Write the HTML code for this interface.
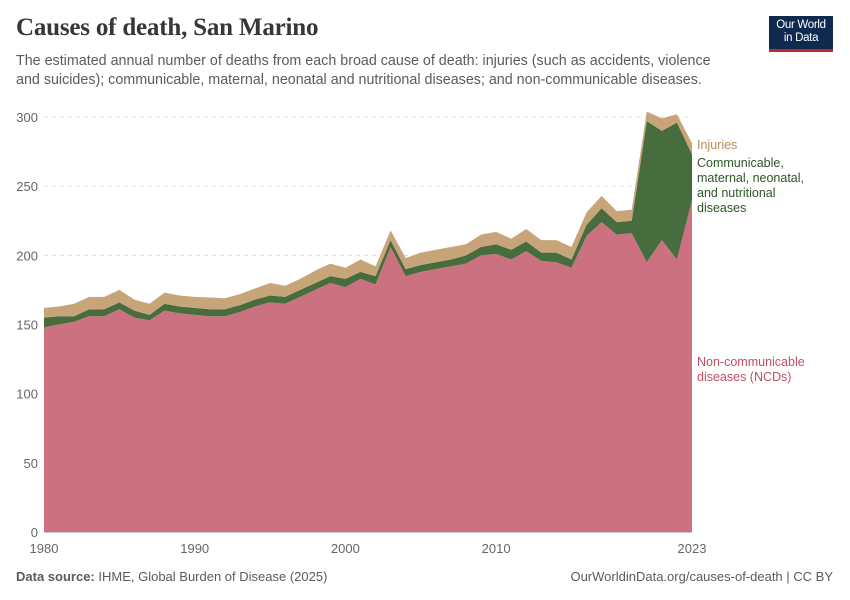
<!DOCTYPE html>
<html><head><meta charset="utf-8"><style>
body{margin:0;background:#fff;font-family:"Liberation Sans",sans-serif;}
#wrap{position:relative;width:850px;height:600px;overflow:hidden;}
.t{position:absolute;white-space:nowrap;}
</style></head><body>
<div id="wrap">
<div class="t" style="left:16px;top:14px;font-family:'Liberation Serif',serif;font-size:25px;font-weight:bold;color:#373737;letter-spacing:-0.2px;">Causes of death, San Marino</div>
<div class="t" style="left:16px;top:52px;font-size:14.3px;line-height:19px;color:#5b5b5b;">The estimated annual number of deaths from each broad cause of death: injuries (such as accidents, violence<br>and suicides); communicable, maternal, neonatal and nutritional diseases; and non-communicable diseases.</div>
<div style="position:absolute;left:769px;top:16px;width:64px;height:36px;background:#0f2a4f;border-bottom:3px solid #c0282d;color:#fff;font-size:11.5px;line-height:13px;text-align:center;padding-top:3px;box-sizing:border-box;letter-spacing:-0.3px;">Our World<br>in Data</div>
<svg id="chart" width="850" height="600" style="position:absolute;left:0;top:0;"></svg>
<div class="t" style="left:16px;top:569px;font-size:13px;color:#5b5b5b;"><b>Data source:</b> IHME, Global Burden of Disease (2025)</div>
<div class="t" style="right:17px;top:569px;font-size:13px;color:#5b5b5b;">OurWorldinData.org/causes-of-death | CC BY</div>
</div>
<script>
const years=[];for(let y=1980;y<=2023;y++)years.push(y);
const ncd=[148,150,152,156,156,161,155,153,160,158,157,156,156,159,163,166,165,170,175,180,177,183,179,206,185,188,190,192,194,200,201,197,203,196,195,191,214,224,215,216,195,211,197,240];
const cmnn=[7,6,4,5,5,5,5,4,5,5,5,5,5,5,5,5,5,5,5,5,6,5,6,5,5,5,5,5,6,6,7,7,7,6,7,6,8,10,9,9,102,79,99,33];
const injuries=[7,7,9,9,9,9,8,8,8,8,8,8.5,8,8,8,9,8,8,9,9,8,9,7,7,8,9,9,9,8,9,9,8,9,9,9,9,9,9,8,8,7,9,6,8];
const yTicks=[0,50,100,150,200,250,300];
const xTicks=[1980,1990,2000,2010,2023];
const svg=document.getElementById('chart');const NS='http://www.w3.org/2000/svg';
const x=v=>44+(v-1980)*(648/43);
const y=v=>532-v*(415/300);
function mk(tag,attrs){const e=document.createElementNS(NS,tag);for(const k in attrs)e.setAttribute(k,attrs[k]);svg.appendChild(e);return e;}
yTicks.forEach(t=>{
 const g=mk('line',{x1:44,x2:692,y1:y(t),y2:y(t),stroke:t===0?'#999':'#ddd','stroke-dasharray':t===0?'':'4,4'});
 
 
 const l=mk('text',{x:38,y:y(t)+5,'text-anchor':'end','font-size':13,fill:'#666','font-family':'Liberation Sans,sans-serif'});l.textContent=t;
 
 
});
xTicks.forEach(t=>{
 const l=mk('text',{x:x(t),y:553,'text-anchor':'middle','font-size':13,fill:'#666','font-family':'Liberation Sans,sans-serif'});l.textContent=t;
 
 
});
const b1=ncd, b2=ncd.map((v,i)=>v+cmnn[i]), b3=b2.map((v,i)=>v+injuries[i]);
function area(lo,hi,fill,name){
 let d='M'+years.map((yr,i)=>x(yr)+','+y(hi[i])).join('L');
 for(let i=years.length-1;i>=0;i--)d+='L'+x(years[i])+','+y(lo?lo[i]:0);
 const p=mk('path',{d:d+'Z',fill:fill});
 
 
}
area(null,b1,'#cc7180','area-ncd');
area(b1,b2,'#476d3e','area-cmnn');
area(b2,b3,'#c8a579','area-injuries');
function lab(txt,yy,col,name){const l=mk('text',{x:697,y:yy,'font-size':12.5,fill:col,'font-family':'Liberation Sans,sans-serif'});l.textContent=txt;
 
 }
lab('Injuries',149,'#b58b58','legend-injuries');
lab('Communicable,',167,'#2f5528','legend-cmnn-1');
lab('maternal, neonatal,',182,'#2f5528','legend-cmnn-2');
lab('and nutritional',197,'#2f5528','legend-cmnn-3');
lab('diseases',212,'#2f5528','legend-cmnn-4');
lab('Non-communicable',366,'#c54c62','legend-ncd-1');
lab('diseases (NCDs)',381,'#c54c62','legend-ncd-2');
</script>
</body></html>
